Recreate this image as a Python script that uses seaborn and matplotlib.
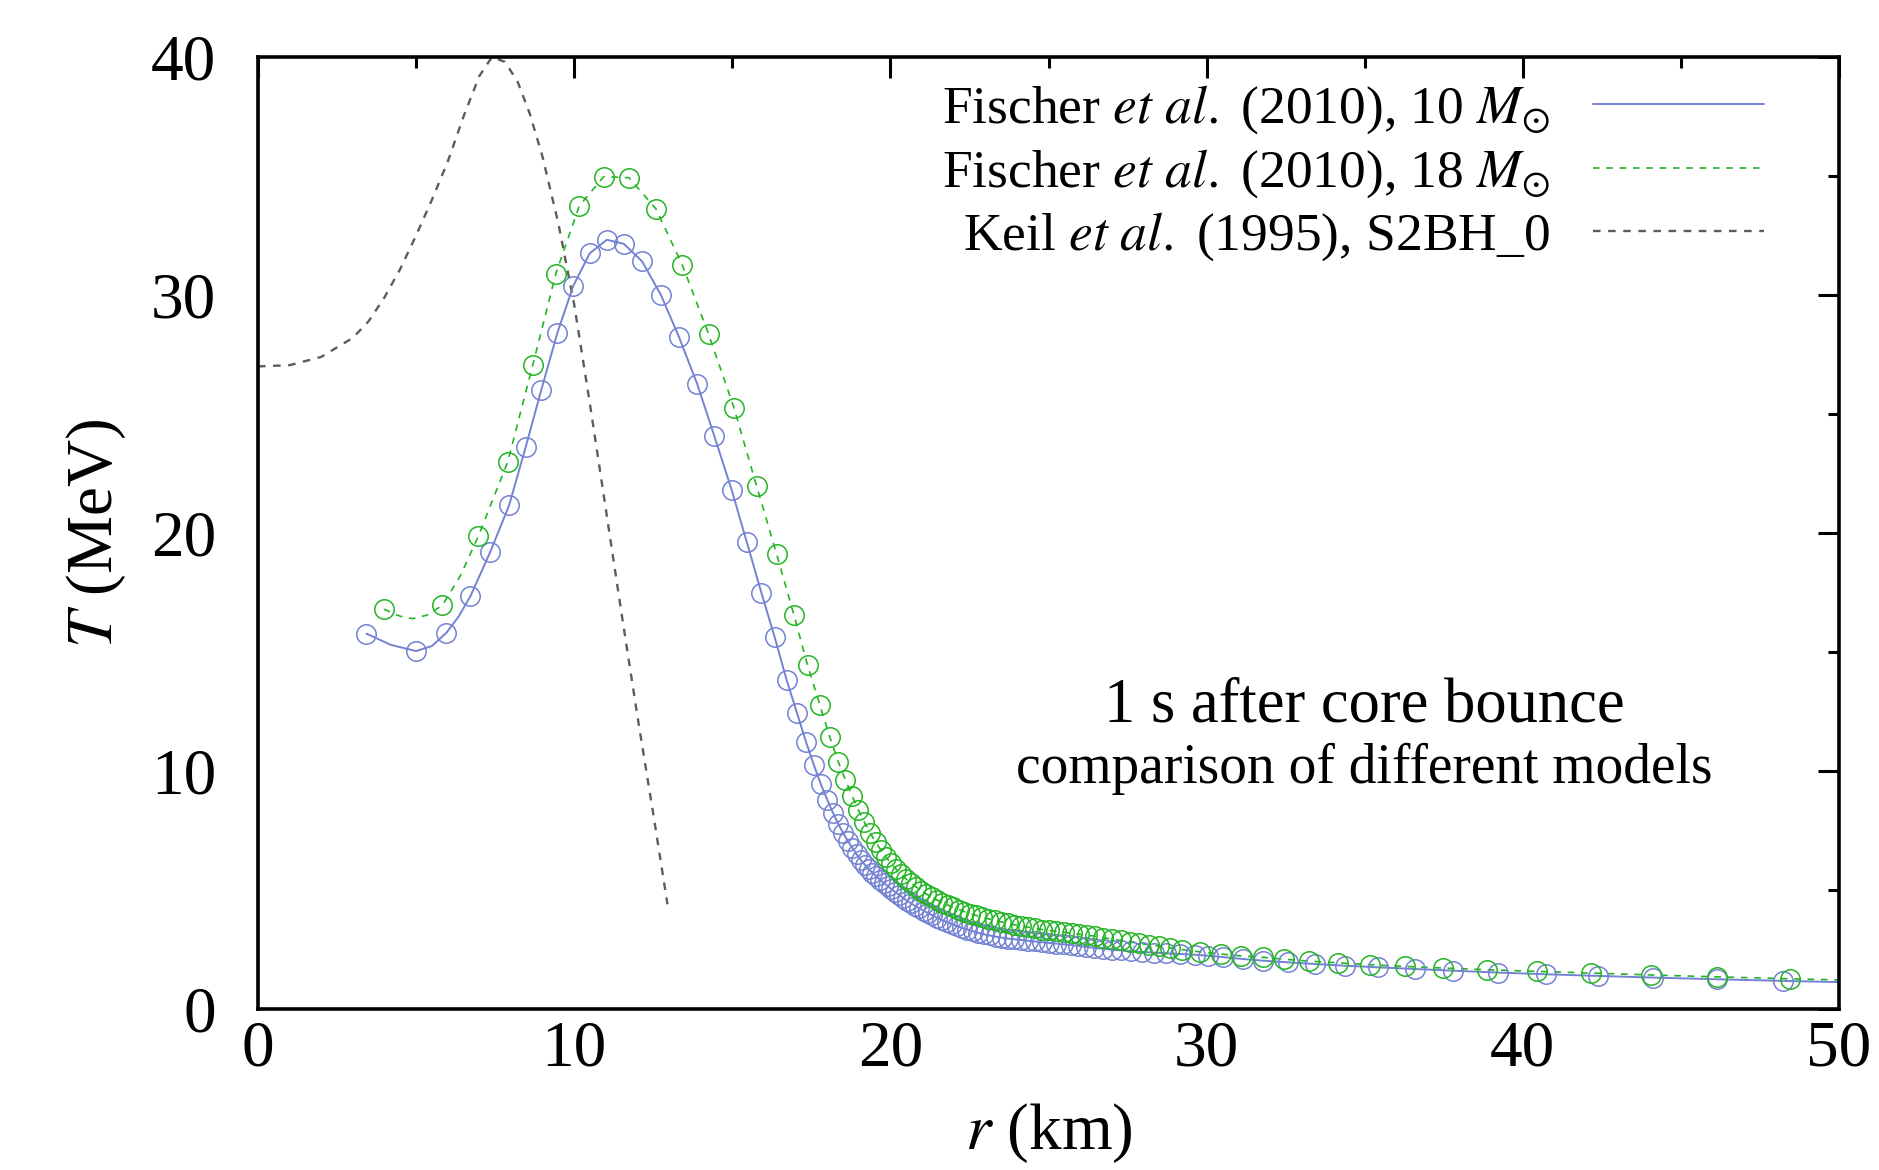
import pandas as pd
import matplotlib
matplotlib.use("Agg")
import matplotlib.pyplot as plt
import seaborn as sns
from matplotlib.lines import Line2D
from matplotlib.ticker import MultipleLocator

# Keil et al. (1995), S2BH_0
keil_r = [0, 1, 2, 3, 3.5, 4, 4.5, 5, 5.5, 6, 6.5, 7, 7.4, 7.8, 8.2, 8.6, 9.0, 9.5,
          10.0, 10.5, 11.0, 11.5, 12.0, 12.5, 12.95]
keil_T = [27.0, 27.05, 27.4, 28.2, 28.9, 29.9, 31.1, 32.5, 34.0, 35.6, 37.5, 39.2, 40.0,
          39.8, 39.0, 37.6, 35.8, 33.0, 29.6, 25.4, 21.0, 16.6, 12.3, 8.2, 4.4]

# Fischer et al. (2010), 10 Msun  (markers)
blue_r = [3.43, 5.00, 5.96, 6.72, 7.34, 7.94, 8.47, 8.96, 9.47, 9.97,
          10.49, 11.03, 11.57, 12.15, 12.74, 13.31, 13.89, 14.43, 14.98, 15.46,
          15.92, 16.34, 16.72, 17.05, 17.33, 17.58, 17.80, 18.00, 18.18, 18.35,
          18.51, 18.66, 18.80, 18.93, 19.06, 19.19, 19.31, 19.43, 19.55, 19.67,
          19.79, 19.91, 20.03, 20.15, 20.27, 20.39, 20.52, 20.65, 20.78, 20.91,
          21.05, 21.19, 21.33, 21.48, 21.63, 21.78, 21.94, 22.10, 22.26, 22.43,
          22.60, 22.78, 22.96, 23.14, 23.33, 23.52, 23.72, 23.92, 24.13, 24.34,
          24.56, 24.78, 25.00, 25.23, 25.46, 25.70, 25.94, 26.19, 26.45, 26.72,
          27.00, 27.30, 27.62, 27.96, 28.33, 28.73, 29.17, 29.62, 30.05, 30.53,
          31.16, 31.79, 32.58, 33.43, 34.38, 35.43, 36.59, 37.80, 39.23, 40.73,
          42.39, 44.13, 46.13, 48.24]
blue_T = [15.77, 15.04, 15.81, 17.35, 19.19, 21.16, 23.63, 26.02, 28.42, 30.38,
          31.75, 32.32, 32.15, 31.41, 30.01, 28.25, 26.26, 24.08, 21.81, 19.61,
          17.49, 15.62, 13.82, 12.42, 11.23, 10.25, 9.45, 8.80, 8.25, 7.78,
          7.38, 7.05, 6.76, 6.50, 6.27, 6.06, 5.89, 5.73, 5.58, 5.44,
          5.30, 5.17, 5.04, 4.92, 4.80, 4.68, 4.55, 4.44, 4.33, 4.23,
          4.13, 4.03, 3.93, 3.83, 3.74, 3.65, 3.57, 3.49, 3.41, 3.34,
          3.27, 3.20, 3.14, 3.09, 3.04, 3.00, 2.96, 2.93, 2.90, 2.87,
          2.84, 2.81, 2.78, 2.75, 2.72, 2.69, 2.65, 2.61, 2.57, 2.53,
          2.49, 2.46, 2.43, 2.40, 2.37, 2.34, 2.31, 2.28, 2.24, 2.18,
          2.10, 2.03, 1.96, 1.89, 1.82, 1.75, 1.68, 1.61, 1.53, 1.46,
          1.39, 1.32, 1.25, 1.18]
# extra points of the blue curve between markers
blue_extra_r = [4.2, 5.5, 6.35, 50.0]
blue_extra_T = [15.3, 15.25, 16.5, 1.13]

# Fischer et al. (2010), 18 Msun  (markers)
green_r = [3.98, 5.83, 6.97, 7.90, 8.69, 9.42, 10.16, 10.93, 11.73, 12.58,
           13.42, 14.25, 15.05, 15.77, 16.40, 16.95, 17.38, 17.77, 18.08, 18.35,
           18.58, 18.79, 18.99, 19.18, 19.36, 19.53, 19.70, 19.86, 20.02, 20.18,
           20.34, 20.50, 20.66, 20.82, 20.98, 21.14, 21.30, 21.47, 21.64, 21.81,
           21.98, 22.16, 22.34, 22.52, 22.71, 22.90, 23.10, 23.30, 23.50, 23.71,
           23.92, 24.13, 24.35, 24.57, 24.79, 25.02, 25.25, 25.49, 25.73, 25.97,
           26.22, 26.47, 26.73, 27.00, 27.28, 27.57, 27.87, 28.18, 28.50, 28.84,
           29.21, 29.79, 30.45, 31.10, 31.79, 32.46, 33.25, 34.17, 35.17, 36.27,
           37.49, 38.88, 40.44, 42.16, 44.05, 46.13, 48.45]
green_T = [16.80, 16.96, 19.87, 23.00, 27.06, 30.90, 33.74, 34.97, 34.93, 33.63,
           31.26, 28.36, 25.27, 21.97, 19.12, 16.55, 14.45, 12.77, 11.44, 10.39,
           9.62, 8.95, 8.35, 7.84, 7.40, 7.02, 6.68, 6.38, 6.12, 5.88,
           5.66, 5.46, 5.28, 5.12, 4.97, 4.83, 4.70, 4.58, 4.47, 4.37,
           4.27, 4.18, 4.09, 4.01, 3.93, 3.86, 3.79, 3.72, 3.66, 3.60,
           3.54, 3.49, 3.44, 3.39, 3.34, 3.30, 3.26, 3.22, 3.18, 3.14,
           3.10, 3.06, 2.99, 2.94, 2.88, 2.82, 2.76, 2.70, 2.64, 2.57,
           2.50, 2.40, 2.31, 2.23, 2.17, 2.09, 2.01, 1.94, 1.86, 1.79,
           1.72, 1.65, 1.58, 1.51, 1.43, 1.35, 1.27]
green_extra_r = [4.5, 4.9, 5.35, 6.4, 50.0]
green_extra_T = [16.5, 16.4, 16.55, 18.2, 1.22]

labels = [r"Fischer $\mathit{et\ al.}$ (2010), 10 $M_{\odot}$",
          r"Fischer $\mathit{et\ al.}$ (2010), 18 $M_{\odot}$",
          r"Keil $\mathit{et\ al.}$ (1995), S2BH_0"]
note_lines = ["1 s after core bounce", "comparison of different models"]

c_blue = "#7482d2"
c_green = "#22b522"
c_gray = "#5c5c5c"

sns.set_theme(style="white")
plt.rcParams["font.family"] = ["Liberation Serif", "DejaVu Serif"]
plt.rcParams["mathtext.fontset"] = "stix"
plt.rcParams["axes.unicode_minus"] = False
for key in ["text.color", "axes.labelcolor", "xtick.color", "ytick.color", "axes.edgecolor"]:
    plt.rcParams[key] = "black"

blue_markers = pd.DataFrame({"r": blue_r, "T": blue_T})
blue_line = pd.concat([blue_markers, pd.DataFrame({"r": blue_extra_r, "T": blue_extra_T})]).sort_values("r")
green_markers = pd.DataFrame({"r": green_r, "T": green_T})
green_line = pd.concat([green_markers, pd.DataFrame({"r": green_extra_r, "T": green_extra_T})]).sort_values("r")
keil = pd.DataFrame({"r": keil_r, "T": keil_T})

fig = plt.figure(figsize=(18.79, 11.70), dpi=100)
ax = fig.add_axes([258 / 1879, 1 - 1009 / 1170, 1581 / 1879, 952 / 1170])

sns.lineplot(data=keil, x="r", y="T", ax=ax, color=c_gray, lw=1.7,
             linestyle=(0, (3.2, 3.2)), estimator=None, sort=False)
sns.lineplot(data=blue_line, x="r", y="T", ax=ax, color=c_blue, lw=1.4, estimator=None)
sns.lineplot(data=green_line, x="r", y="T", ax=ax, color=c_green, lw=1.2,
             linestyle=(0, (4, 4)), estimator=None)
sns.lineplot(data=blue_markers, x="r", y="T", ax=ax, linestyle="", marker="o", ms=14,
             mfc="none", mec=c_blue, mew=1.1, estimator=None)
sns.lineplot(data=green_markers, x="r", y="T", ax=ax, linestyle="", marker="o", ms=14,
             mfc="none", mec=c_green, mew=1.1, estimator=None)

ax.set_xlim(0, 50)
ax.set_ylim(0, 40)
ax.xaxis.set_major_locator(MultipleLocator(10))
ax.xaxis.set_minor_locator(MultipleLocator(5))
ax.yaxis.set_major_locator(MultipleLocator(10))
ax.yaxis.set_minor_locator(MultipleLocator(5))
ax.tick_params(which="both", direction="in", top=True, right=True, width=2.2,
               color="black", labelcolor="black", labelsize=47)
ax.tick_params(which="major", length=15)
ax.tick_params(which="minor", length=8)
ax.tick_params(axis="y", pad=30)
ax.tick_params(axis="x", pad=8)
for s in ax.spines.values():
    s.set_linewidth(2.6)
    s.set_color("black")

ax.set_xlabel("$r$ (km)", fontsize=47, color="black")
ax.set_ylabel("$T$ (MeV)", fontsize=47, color="black")
ax.xaxis.set_label_coords(0.5, -0.097)
ax.yaxis.set_label_coords(-0.082, 0.5)

handles = [Line2D([], [], color=c_blue, lw=1.4),
           Line2D([], [], color=c_green, lw=1.2, linestyle=(0, (4, 4))),
           Line2D([], [], color=c_gray, lw=1.7, linestyle=(0, (3.2, 3.2)))]
leg = ax.legend(handles, labels, loc="upper right", bbox_to_anchor=(0.9526, 0.972),
                frameon=False, markerfirst=False, fontsize=38.5, handlelength=3.2,
                handletextpad=0.8, labelspacing=0.2, borderpad=0, borderaxespad=0)
for t in leg.get_texts():
    t.set_color("black")

ax.text(35.0, 12.1, note_lines[0], fontsize=45, ha="center", va="baseline", color="black")
ax.text(35.0, 9.5, note_lines[1], fontsize=40, ha="center", va="baseline", color="black")

fig.savefig("out.png", dpi=100)
